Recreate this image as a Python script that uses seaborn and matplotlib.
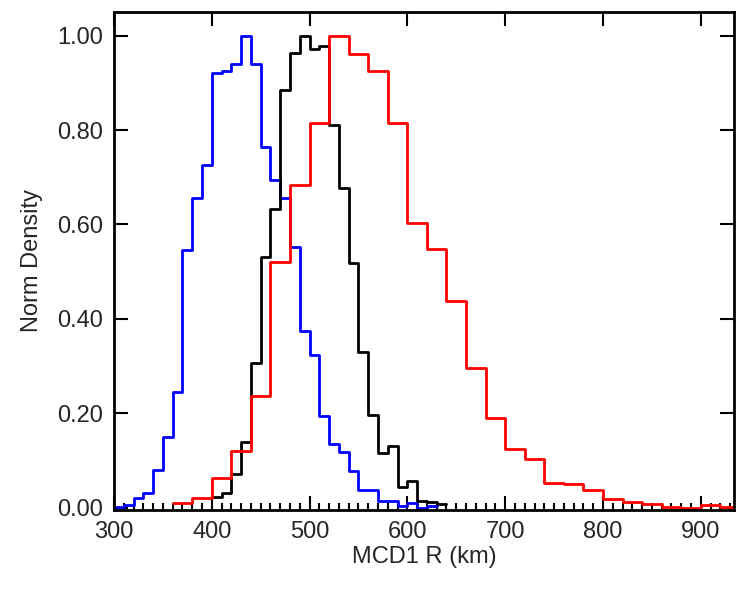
import matplotlib
matplotlib.use("Agg")
import matplotlib.pyplot as plt
import seaborn as sns
import numpy as np
import pandas as pd
from matplotlib.ticker import MultipleLocator, FormatStrFormatter

blue_start, blue_width = 300, 10
blue_vals = [0.002, 0.005, 0.02, 0.03, 0.08, 0.15, 0.245, 0.545, 0.655, 0.725, 0.92, 0.925,
             0.94, 1.0, 0.94, 0.765, 0.695, 0.657, 0.553, 0.374, 0.324, 0.194, 0.134, 0.118,
             0.078, 0.037, 0.037, 0.015, 0.015, 0.003, 0.009, 0.0, 0.003]
black_start, black_width = 400, 10
black_vals = [0.023, 0.032, 0.072, 0.139, 0.307, 0.53, 0.632, 0.885, 0.963, 1.0, 0.972, 0.979,
              0.811, 0.678, 0.519, 0.329, 0.196, 0.115, 0.13, 0.043, 0.056, 0.014, 0.011, 0.007]
red_start, red_width = 360, 20
red_vals = [0.009, 0.021, 0.062, 0.12, 0.236, 0.521, 0.683, 0.815, 1.0, 0.961, 0.924, 0.815,
            0.602, 0.547, 0.438, 0.296, 0.19, 0.125, 0.103, 0.053, 0.051, 0.037, 0.018, 0.011,
            0.007, 0.002, 0.0, 0.005, 0.001]

sns.set_theme(style="ticks")
plt.rcParams['font.family'] = ['Liberation Sans', 'DejaVu Sans']

fig = plt.figure(figsize=(7.5, 6), dpi=100)
ax = fig.add_axes([114/750, 1-510/600, 620/750, 498/600])

for start, width, vals, col in [(blue_start, blue_width, blue_vals, 'blue'),
                                (black_start, black_width, black_vals, 'black'),
                                (red_start, red_width, red_vals, 'red')]:
    n = len(vals)
    edges = [float(e) for e in start + width*np.arange(n+1)]
    df = pd.DataFrame({'x': start + width*(np.arange(n)+0.5), 'w': vals})
    sns.histplot(data=df, x='x', weights='w', bins=edges, element='step', fill=False,
                 color=col, linewidth=2, ax=ax)

ax.set_xlim(300, 934)
ax.set_ylim(-0.005, 1.05)
ax.xaxis.set_major_locator(MultipleLocator(100))
ax.xaxis.set_minor_locator(MultipleLocator(10))
ax.yaxis.set_major_locator(MultipleLocator(0.2))
ax.yaxis.set_major_formatter(FormatStrFormatter('%.2f'))
ax.tick_params(which='both', direction='in', top=True, right=True, labelsize=17, width=1.5, color='black')
ax.tick_params(which='major', length=10, pad=8)
ax.tick_params(which='minor', length=5, top=False)
for s in ax.spines.values():
    s.set_linewidth(2)
    s.set_color('black')
ax.set_xlabel('MCD1 R (km)', fontsize=17, labelpad=2)
ax.set_ylabel('Norm Density', fontsize=17, labelpad=10)
fig.savefig('out.png', dpi=100)
